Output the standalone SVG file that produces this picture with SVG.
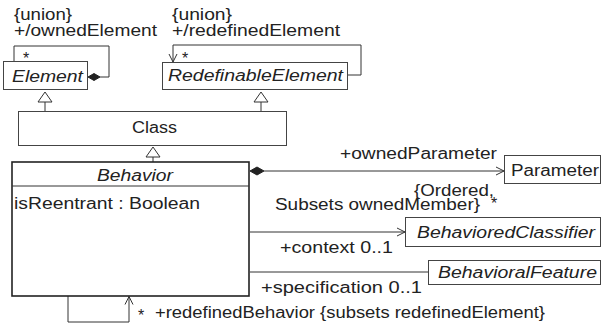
<svg xmlns="http://www.w3.org/2000/svg" width="603" height="329" viewBox="0 0 603 329">
<defs>
<style>
.box{fill:#fff;stroke:#444;stroke-width:1}
.bbox{fill:#fff;stroke:#222;stroke-width:1.6}
.ln{fill:none;stroke:#333;stroke-width:1}
.t{font-family:"Liberation Sans",Arial,sans-serif;font-size:16px;fill:#222}
.i{font-style:italic}
.tri{fill:#fff;stroke:#333;stroke-width:1}
.dia{fill:#222;stroke:#222;stroke-width:1}
</style>
<marker id="open" viewBox="0 0 10 10" refX="9" refY="5" markerWidth="10" markerHeight="10" markerUnits="userSpaceOnUse" orient="auto">
<path d="M1,1 L9,5 L1,9" fill="none" stroke="#333" stroke-width="1"/>
</marker>
</defs>
<rect width="603" height="329" fill="#fff"/>

<g id="connectors">
<polyline class="ln" points="14,61 14,46 109,46 109,77 100,77"/>
<polygon class="dia" points="88,77 94,73.5 100,77 94,80.5"/>
<polyline class="ln" points="347,75 361,75 361,45 173,45 173,62" marker-end="url(#open)"/>
<polygon class="tri" points="45,92 38,102 52,102"/>
<line class="ln" x1="45" y1="102" x2="45" y2="111"/>
<polygon class="tri" points="261,92 254,102 268,102"/>
<line class="ln" x1="261" y1="102" x2="261" y2="111"/>
<polygon class="tri" points="153,147 146,157 160,157"/>
<line class="ln" x1="153" y1="157" x2="153" y2="162"/>
<polygon class="dia" points="250,171 257,167 264,171 257,175"/>
<line class="ln" x1="264" y1="171" x2="504" y2="171" marker-end="url(#open)"/>
<line class="ln" x1="250" y1="232" x2="405" y2="232" marker-end="url(#open)"/>
<line class="ln" x1="250" y1="272" x2="428" y2="272"/>
<polyline class="ln" points="68,296 68,322 129,322 129,296.5" marker-end="url(#open)"/>
<text class="t" x="14" y="20" textLength="58" lengthAdjust="spacingAndGlyphs">{union}</text>
<text class="t" x="14" y="36" textLength="143" lengthAdjust="spacingAndGlyphs">+/ownedElement</text>
<text class="t" x="23" y="64">*</text>
<text class="t" x="172" y="20" textLength="60" lengthAdjust="spacingAndGlyphs">{union}</text>
<text class="t" x="172" y="36" textLength="168" lengthAdjust="spacingAndGlyphs">+/redefinedElement</text>
<text class="t" x="182" y="64">*</text>
<text class="t" x="340" y="159" textLength="157" lengthAdjust="spacingAndGlyphs">+ownedParameter</text>
<text class="t" x="414" y="196" textLength="80" lengthAdjust="spacingAndGlyphs">{Ordered,</text>
<text class="t" x="275" y="210" textLength="205" lengthAdjust="spacingAndGlyphs">Subsets ownedMember}</text>
<text class="t" x="491" y="209">*</text>
<text class="t" x="280" y="253" textLength="113" lengthAdjust="spacingAndGlyphs">+context  0..1</text>
<text class="t" x="261" y="293" textLength="161" lengthAdjust="spacingAndGlyphs">+specification  0..1</text>
<text class="t" x="138" y="321">*</text>
<text class="t" x="155" y="318" textLength="390" lengthAdjust="spacingAndGlyphs">+redefinedBehavior {subsets redefinedElement}</text>
</g>

<g id="Element">
<rect class="box" x="3.5" y="61.5" width="84" height="28"/>
<text class="t i" x="12" y="82" textLength="71" lengthAdjust="spacingAndGlyphs">Element</text>
</g>

<g id="RedefinableElement">
<rect class="box" x="162.5" y="62.5" width="185" height="27"/>
<text class="t i" x="168" y="81" textLength="175" lengthAdjust="spacingAndGlyphs">RedefinableElement</text>
</g>

<g id="Class">
<rect class="box" x="18.5" y="111.5" width="268" height="34"/>
<text class="t" x="132" y="133" textLength="45" lengthAdjust="spacingAndGlyphs">Class</text>
</g>

<g id="Behavior">
<rect class="bbox" x="12" y="162" width="237" height="134"/>
<line class="ln" x1="12" y1="186" x2="249" y2="186"/>
<text class="t i" x="97" y="181" textLength="76" lengthAdjust="spacingAndGlyphs">Behavior</text>
<text class="t" x="14" y="209" textLength="186" lengthAdjust="spacingAndGlyphs">isReentrant : Boolean</text>
</g>

<g id="Parameter">
<rect class="box" x="504.5" y="155.5" width="96" height="28"/>
<text class="t" x="511" y="176" textLength="88" lengthAdjust="spacingAndGlyphs">Parameter</text>
</g>

<g id="BehavioredClassifier">
<rect class="box" x="405.5" y="217.5" width="195" height="29"/>
<text class="t i" x="417" y="238" textLength="178" lengthAdjust="spacingAndGlyphs">BehavioredClassifier</text>
</g>

<g id="BehavioralFeature">
<rect class="box" x="428.5" y="260.5" width="172" height="24"/>
<text class="t i" x="438" y="278" textLength="159" lengthAdjust="spacingAndGlyphs">BehavioralFeature</text>
</g>
</svg>
